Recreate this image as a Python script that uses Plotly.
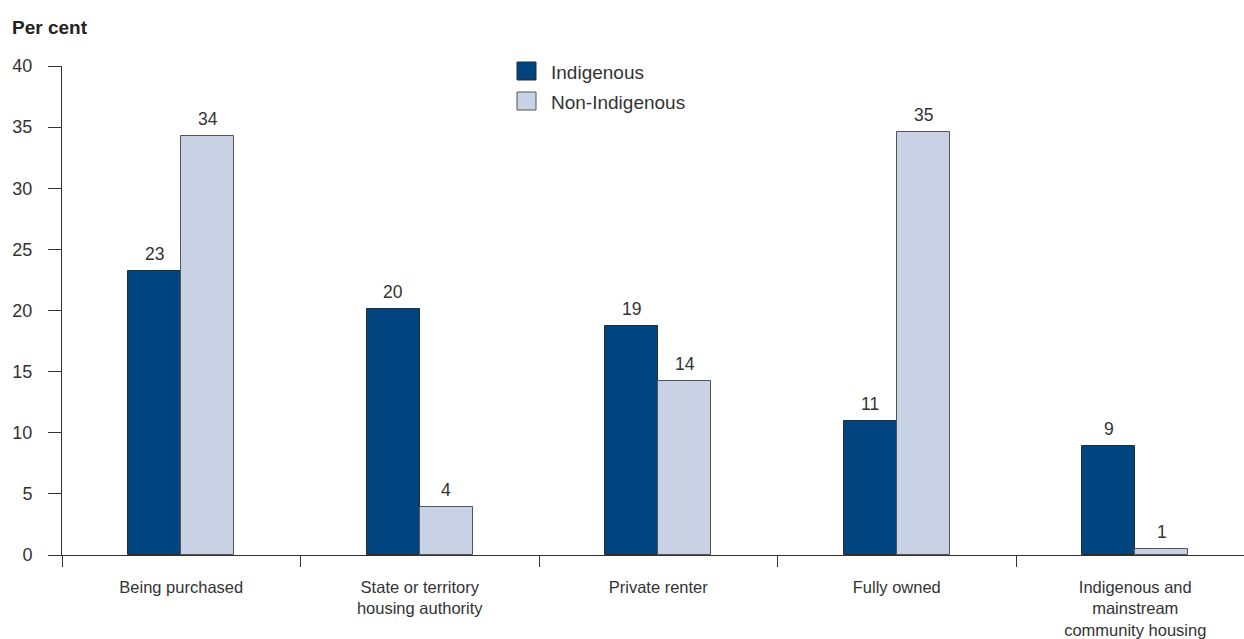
import plotly.graph_objects as go

# Housing tenure by Indigenous status (per cent)
categories = [
    "Being purchased",
    "State or territory<br>housing authority",
    "Private renter",
    "Fully owned",
    "Indigenous and<br>mainstream<br>community housing",
]
indigenous = [23.2, 20.1, 18.7, 11.0, 8.9]
non_indigenous = [34.3, 3.9, 14.2, 34.6, 0.5]
series_names = ["Indigenous", "Non-Indigenous"]
y_ticks = [0, 5, 10, 15, 20, 25, 30, 35, 40]

DARK = "#00457F"
LIGHT = "#C9D2E5"
TEXT = "#333333"
FONT = "Liberation Sans, Arial, sans-serif"
BAR_W = 0.222


def half_up(v):
    return str(int(v + 0.5))


xs = list(range(len(categories)))

fig = go.Figure()
fig.add_trace(go.Bar(
    x=xs, y=indigenous, name=series_names[0], width=BAR_W, offset=-BAR_W,
    marker=dict(color=DARK, line=dict(color="#2b2b2b", width=1)),
    showlegend=False, hoverinfo="y",
))
fig.add_trace(go.Bar(
    x=xs, y=non_indigenous, name=series_names[1], width=BAR_W, offset=0,
    marker=dict(color=LIGHT, line=dict(color="#555555", width=1)),
    showlegend=False, hoverinfo="y",
))

# value labels above each bar
for i, (a, b) in enumerate(zip(indigenous, non_indigenous)):
    for val, dx in ((a, -BAR_W / 2), (b, BAR_W / 2)):
        fig.add_annotation(
            x=i + dx, y=val, text=half_up(val), showarrow=False,
            xanchor="center", yanchor="bottom", yshift=5,
            font=dict(family=FONT, size=17.5, color=TEXT),
        )

# legend drawn as squares with labels
plot_l, plot_r, plot_t, plot_b = 62, 1244, 66, 555
W = plot_r - plot_l
H = plot_b - plot_t


def px_x(p):
    return (p - plot_l) / W


def px_y(p):
    return (plot_b - p) / H


for k, (name, col, lc) in enumerate(zip(series_names, [DARK, LIGHT], ["#2b2b2b", "#555555"])):
    top = 62 + 30 * k
    fig.add_shape(
        type="rect", xref="paper", yref="paper",
        x0=px_x(517), x1=px_x(536), y0=px_y(top + 18), y1=px_y(top),
        fillcolor=col, line=dict(color=lc, width=1),
    )
    fig.add_annotation(
        xref="paper", yref="paper", x=px_x(549), y=px_y(top + 10),
        text=name, showarrow=False, xanchor="left", yanchor="middle",
        font=dict(family=FONT, size=19, color=TEXT),
    )

fig.add_annotation(
    xref="paper", yref="paper", x=px_x(10), y=px_y(27),
    text="<b>Per cent</b>", showarrow=False, xanchor="left", yanchor="middle",
    font=dict(family=FONT, size=19, color="#222222"),
)

boundaries = [i - 0.5 for i in range(len(categories) + 1)]

fig.update_layout(
    width=1244, height=639,
    margin=dict(l=plot_l, r=1244 - plot_r, t=plot_t, b=639 - plot_b),
    paper_bgcolor="white", plot_bgcolor="white",
    bargap=0, bargroupgap=0,
    font=dict(family=FONT, color=TEXT),
    xaxis=dict(
        range=[-0.5, -0.5 + 5 * W / (5 * 238.5)],
        tickvals=xs, ticktext=categories, ticks="", showgrid=False,
        showline=True, linecolor="#333333", linewidth=1,
        tickfont=dict(family=FONT, size=16.5, color=TEXT),
        ticklabelstandoff=17, automargin=False,
        minor=dict(tickvals=boundaries, ticks="outside", ticklen=11,
                   tickcolor="#333333", tickwidth=1, showgrid=False),
        zeroline=False,
    ),
    yaxis=dict(
        range=[0, 40], tickvals=y_ticks, ticks="outside", ticklen=13,
        tickcolor="#333333", tickwidth=1, showgrid=False,
        showline=True, linecolor="#333333", linewidth=1,
        tickfont=dict(family=FONT, size=18, color=TEXT),
        ticklabelstandoff=12, zeroline=False, automargin=False,
    ),
)

fig.write_html("out.html")
